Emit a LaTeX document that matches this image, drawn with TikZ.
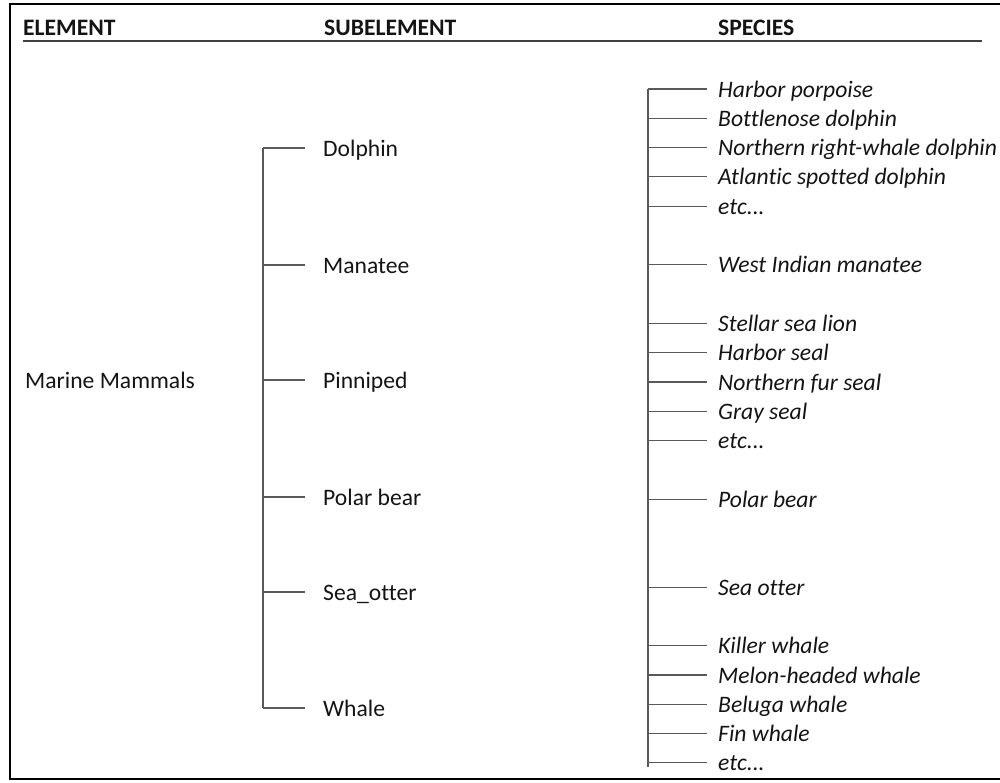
\documentclass[tikz,border=0pt]{standalone}
\usepackage{fontspec}
\setmainfont{Carlito}[Ligatures=NoCommon]
\newcommand{\etcdots}{etc...}
\begin{document}
\begin{tikzpicture}[x=1pt,y=-1pt,
  every node/.style={text=black!92},
  head/.style={anchor=base west,inner sep=0,font=\bfseries},
  sub/.style={anchor=west,inner ysep=0,inner xsep=18pt,text height=16pt,text depth=0pt},
  spec/.style={sub,inner xsep=11pt,font=\itshape},
  tick/.style={line width=1.1pt,black!65}]
\fontsize{23.6pt}{28pt}\selectfont
\useasboundingbox (0,0) rectangle (1000,782);
\draw[line width=2.5pt] (1010,4)--(10,4)--(10,779)--(1010,779);

\node[head] (elem) at (23,35) {ELEMENT};
\node[head] (subel) at (324,35) {SUBELEMENT};
\node[head] (spc) at (718,35) {SPECIES};
\draw[line width=1.3pt,black!75] (23,41)--(982,41);

\node[sub,inner xsep=0] (mm) at (25,380) {Marine Mammals};

\coordinate (lspine) at (263,0);
\foreach \name/\y [count=\i] in {Dolphin/148,Manatee/265,Pinniped/380,Polar bear/497,Sea\_otter/592,Whale/708}
{
    \node[sub] (sub\i) at (305,\y) {\name};
    \draw[tick] (lspine |- sub\i.west)--(sub\i.west);
}
\draw[tick] (lspine |- sub1.west)--(lspine |- sub6.west);

\coordinate (rspine) at (648,0);
\foreach \name/\k [count=\i] in {Harbor porpoise/0,Bottlenose dolphin/1,Northern right-whale dolphin/2,Atlantic spotted dolphin/3,\etcdots/4,West Indian manatee/6,Stellar sea lion/8,Harbor seal/9,Northern fur seal/10,Gray seal/11,\etcdots/12,Polar bear/14,Sea otter/17,Killer whale/19,Melon-headed whale/20,Beluga whale/21,Fin whale/22,\etcdots/23}
{
    \node[spec] (sp\i) at (707,89+\k*29.3) {\name};
    \draw[tick] (rspine |- sp\i.west)--(sp\i.west);
}
\draw[tick] (rspine |- sp1.west)--([yshift=-4pt]rspine |- sp18.west);

\end{tikzpicture}
\end{document}
